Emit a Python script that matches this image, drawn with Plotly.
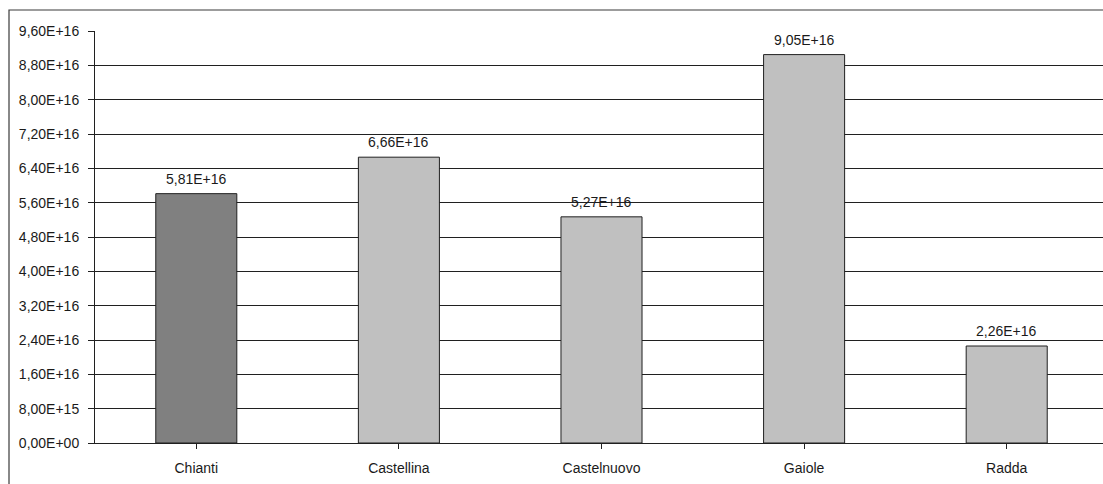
import plotly.graph_objects as go

# Comuni and their values
categories = ["Chianti", "Castellina", "Castelnuovo", "Gaiole", "Radda"]
values = [5.81e16, 6.66e16, 5.27e16, 9.05e16, 2.26e16]
bar_colors = ["#808080", "#c0c0c0", "#c0c0c0", "#c0c0c0", "#c0c0c0"]

# Y axis ticks every 8e15 up to 9.6e16
y_ticks = [i * 8e15 for i in range(13)]


def sci_it(v):
    """Scientific notation with a decimal comma, e.g. 5,81E+16."""
    return f"{v:.2E}".replace(".", ",")


y_ticktext = [sci_it(v) for v in y_ticks]
bar_text = [sci_it(v) for v in values]

FONT = "Arial, Liberation Sans, sans-serif"
TXT = "#1a1a1a"
FS = 14

W, H = 1103, 484
L, T, R, B = 95, 31, 0, 41
plot_w = W - L - R
plot_h = H - T - B
cat_px = 202.6  # pixel width of one category slot

x_pos = list(range(len(categories)))

fig = go.Figure(
    go.Bar(
        x=x_pos,
        y=values,
        width=0.4,
        marker=dict(color=bar_colors, line=dict(color="#202020", width=1)),
        hoverinfo="skip",
    )
)

# value labels above each bar
annotations = [
    dict(
        x=xv,
        y=v,
        xref="x",
        yref="y",
        text=t,
        showarrow=False,
        yanchor="bottom",
        yshift=5,
        font=dict(family=FONT, size=FS, color=TXT),
    )
    for xv, v, t in zip(x_pos, values, bar_text)
]

fig.update_layout(
    width=W,
    height=H,
    margin=dict(l=L, r=R, t=T, b=B),
    paper_bgcolor="white",
    plot_bgcolor="white",
    showlegend=False,
    font=dict(family=FONT, size=FS, color=TXT),
    annotations=annotations,
    shapes=[
        # outer chart frame (left and top edges visible)
        dict(
            type="rect",
            xref="paper",
            yref="paper",
            x0=(9 - L) / plot_w,
            x1=1.05,
            y0=-0.3,
            y1=(H - B - 10) / plot_h,
            line=dict(color="#3a3a3a", width=1.2),
            fillcolor="rgba(0,0,0,0)",
            layer="above",
        )
    ],
)

fig.update_xaxes(
    range=[-0.5, -0.5 + plot_w / cat_px],
    tickmode="array",
    tickvals=x_pos,
    ticktext=categories,
    tickson="boundaries",
    ticks="outside",
    ticklen=5,
    tickcolor="#202020",
    showline=True,
    linecolor="#202020",
    linewidth=1,
    showgrid=False,
    zeroline=False,
    tickfont=dict(family=FONT, size=FS, color=TXT),
    ticklabelstandoff=7,
)

fig.update_yaxes(
    range=[0, 9.6e16],
    tickmode="array",
    tickvals=y_ticks,
    ticktext=y_ticktext,
    ticks="outside",
    ticklen=6,
    tickcolor="#202020",
    showline=True,
    linecolor="#202020",
    linewidth=1,
    showgrid=True,
    gridcolor="#202020",
    gridwidth=1,
    zeroline=False,
    tickfont=dict(family=FONT, size=FS, color=TXT),
    ticklabelstandoff=6,
)

fig.write_html("out.html")
